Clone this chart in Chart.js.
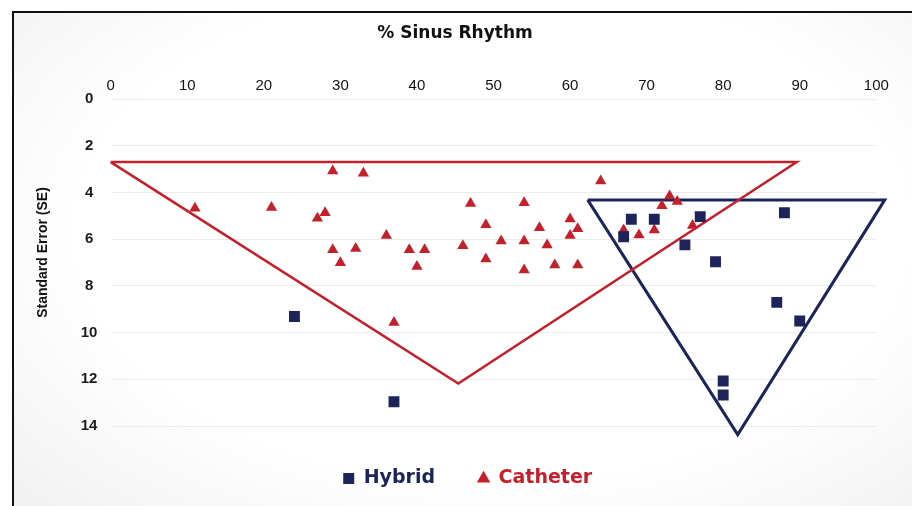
<!DOCTYPE html>
<html>
<head>
<meta charset="utf-8">
<script src="https://cdn.jsdelivr.net/npm/chart.js@4.4.1/dist/chart.umd.min.js"></script>
<style>
  html, body { margin: 0; padding: 0; background: #ffffff; }
  #wrap { position: relative; width: 912px; height: 506px; overflow: hidden; }
  #panel {
    position: absolute; left: 12px; top: 11px; width: 920px; height: 520px;
    border-left: 2px solid #111; border-top: 2px solid #111;
    background: radial-gradient(ellipse 75% 80% at 52% 42%, #ffffff 60%, #efefef 100%);
  }
  canvas { position: absolute; left: 0; top: 0; }
</style>
</head>
<body>
<div id="wrap">
  <div id="panel"></div>
  <canvas id="c" width="912" height="506"></canvas>
</div>
<script>
// % sinus rhythm (x) and standard error (y) for each study
const hybridX = [24, 37, 68, 71, 67, 77, 88, 75, 79, 87, 90, 80, 80];
const hybridSE = [9.31, 12.96, 5.14, 5.14, 5.89, 5.03, 4.86, 6.24, 6.96, 8.70, 9.50, 12.07, 12.67];

const catheterX = [11, 21, 28, 27, 29, 33, 36, 29, 32, 30, 39, 41, 40, 46, 47, 49, 49, 51, 54, 54,
                   54, 56, 57, 58, 60, 61, 60, 61, 64, 67, 69, 71, 72, 73, 74, 76, 37];
const catheterSE = [4.67, 4.64, 4.86, 5.10, 3.07, 3.17, 5.84, 6.45, 6.39, 7.00, 6.45, 6.45, 7.17, 6.28,
                    4.46, 5.38, 6.84, 6.07, 4.43, 6.07, 7.31, 5.50, 6.24, 7.10, 5.13, 5.55, 5.84, 7.10,
                    3.50, 5.60, 5.81, 5.60, 4.56, 4.14, 4.38, 5.41, 9.57];

// funnel outlines (closed triangles)
const catheterFunnelX = [0, 89.6, 45.4, 0];
const catheterFunnelSE = [2.69, 2.69, 12.18, 2.69];
const hybridFunnelX = [62.3, 101.1, 81.9, 62.3];
const hybridFunnelSE = [4.31, 4.31, 14.37, 4.31];

const xTicks = [0, 10, 20, 30, 40, 50, 60, 70, 80, 90, 100];
const yTicks = [0, 2, 4, 6, 8, 10, 12, 14];

const seriesNames = ['Hybrid', 'Catheter'];
const xTitle = '% Sinus Rhythm';
const yTitle = 'Standard Error (SE)';

const NAVY = '#1c2459';
const RED = '#c4202b';

const pts = (xs, ys) => xs.map((x, i) => ({ x: x, y: ys[i] }));

// axis captions placed on the canvas
const captions = {
  id: 'captions',
  afterDraw(chart) {
    const ctx = chart.ctx;
    ctx.save();
    ctx.fillStyle = '#111';
    ctx.textAlign = 'center';
    ctx.textBaseline = 'middle';
    ctx.font = 'bold 17px "DejaVu Sans"';
    ctx.fillText(xTitle, 455, 34);
    ctx.translate(43, 252.5);
    ctx.rotate(-Math.PI / 2);
    ctx.font = 'bold 14px "Liberation Sans"';
    ctx.fillText(yTitle, 0, 0);
    ctx.restore();
  }
};

new Chart(document.getElementById('c'), {
  type: 'scatter',
  data: {
    datasets: [
      {
        label: seriesNames[0],
        data: pts(hybridX, hybridSE),
        pointStyle: 'rect',
        pointRadius: 7.7,
        pointHoverRadius: 7.7,
        backgroundColor: NAVY,
        borderColor: NAVY,
        borderWidth: 0
      },
      {
        label: seriesNames[1],
        data: pts(catheterX, catheterSE),
        pointStyle: 'triangle',
        pointRadius: 6.5,
        pointHoverRadius: 6.5,
        backgroundColor: RED,
        borderColor: RED,
        borderWidth: 0
      },
      {
        label: 'catheter-funnel',
        data: pts(catheterFunnelX, catheterFunnelSE),
        showLine: true,
        pointRadius: 0,
        borderColor: RED,
        borderWidth: 2.5,
        borderJoinStyle: 'miter',
        tension: 0,
        fill: false,
        clip: false
      },
      {
        label: 'hybrid-funnel',
        data: pts(hybridFunnelX, hybridFunnelSE),
        showLine: true,
        pointRadius: 0,
        borderColor: NAVY,
        borderWidth: 3,
        borderJoinStyle: 'miter',
        tension: 0,
        fill: false,
        clip: false
      }
    ]
  },
  options: {
    responsive: false,
    animation: false,
    devicePixelRatio: 1,
    layout: { padding: { left: 59.1, right: 35.7, top: 0, bottom: 8 } },
    scales: {
      x: {
        type: 'linear',
        position: 'top',
        min: xTicks[0],
        max: xTicks[xTicks.length - 1],
        afterBuildTicks: s => { s.ticks = xTicks.map(v => ({ value: v })); },
        afterFit: s => { s.height = 99.3; },
        grid: { display: false, drawTicks: false },
        border: { display: false },
        ticks: {
          padding: 4,
          color: '#111',
          font: { family: 'Liberation Sans', size: 15 }
        }
      },
      y: {
        type: 'linear',
        reverse: true,
        min: yTicks[0],
        max: yTicks[yTicks.length - 1],
        afterBuildTicks: s => { s.ticks = yTicks.map(v => ({ value: v })); },
        afterFit: s => { s.width = 51.6; },
        grid: { color: '#ececec', lineWidth: 1, drawTicks: false },
        border: { display: false },
        ticks: {
          padding: 13.3,
          crossAlign: 'center',
          color: '#1a1a1a',
          font: { family: 'Liberation Sans', size: 15, weight: 'bold' }
        }
      }
    },
    plugins: {
      tooltip: { enabled: false },
      title: { display: false },
      legend: {
        position: 'bottom',
        labels: {
          usePointStyle: true,
          boxWidth: 11,
          boxHeight: 11,
          padding: 43,
          font: { family: 'DejaVu Sans', size: 19, weight: 'bold' },
          filter: item => item.datasetIndex < 2,
          generateLabels: chart => {
            const items = Chart.defaults.plugins.legend.labels.generateLabels(chart);
            return items.map(it => {
              const c = it.datasetIndex === 0 ? NAVY : RED;
              it.fontColor = c;
              it.fillStyle = c;
              it.strokeStyle = c;
              it.lineWidth = 0;
              return it;
            });
          }
        }
      }
    }
  },
  plugins: [captions]
});
</script>
</body>
</html>
